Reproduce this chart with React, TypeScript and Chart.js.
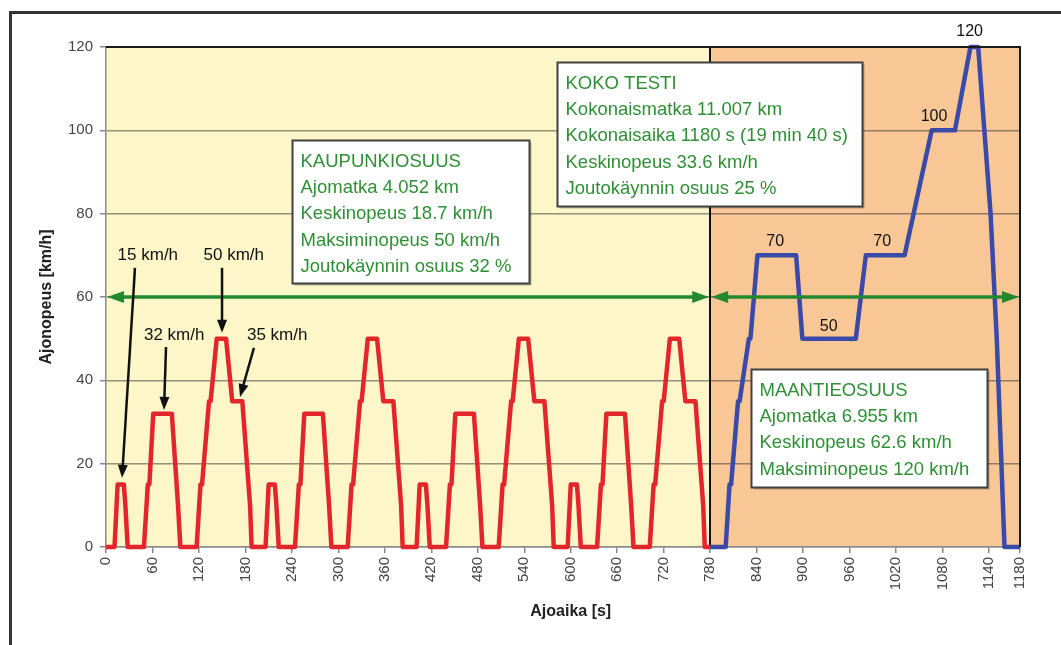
import React, { useEffect, useRef } from 'react';
import { Chart, registerables } from 'chart.js';

Chart.register(...registerables);

// ---------- DATA ----------
// Urban part (4 x ECE-15 cycle), time [s]
const urbanTime = [
  0, 11, 15, 23, 25, 28, 49, 54, 56, 61, 85, 93, 96, 117, 122, 124, 133, 135, 143, 155, 163, 176, 186, 188, 195,
  206, 210, 218, 220, 223, 244, 249, 251, 256, 280, 288, 291, 312, 317, 319, 328, 330, 338, 350, 358, 371, 381, 383, 390,
  401, 405, 413, 415, 418, 439, 444, 446, 451, 475, 483, 486, 507, 512, 514, 523, 525, 533, 545, 553, 566, 576, 578, 585,
  596, 600, 608, 610, 613, 634, 639, 641, 646, 670, 678, 681, 702, 707, 709, 718, 720, 728, 740, 748, 761, 771, 773, 780,
];
// Urban part speed [km/h]
const urbanSpeed = [
  0, 0, 15, 15, 10, 0, 0, 15, 15, 32, 32, 10, 0, 0, 15, 15, 35, 35, 50, 50, 35, 35, 10, 0, 0,
  0, 15, 15, 10, 0, 0, 15, 15, 32, 32, 10, 0, 0, 15, 15, 35, 35, 50, 50, 35, 35, 10, 0, 0,
  0, 15, 15, 10, 0, 0, 15, 15, 32, 32, 10, 0, 0, 15, 15, 35, 35, 50, 50, 35, 35, 10, 0, 0,
  0, 15, 15, 10, 0, 0, 15, 15, 32, 32, 10, 0, 0, 15, 15, 35, 35, 50, 50, 35, 35, 10, 0, 0,
];
// Extra-urban (highway) part
const roadTime = [780, 800, 805, 807, 816, 818, 830, 832, 841, 891, 899, 968, 981, 1031, 1066, 1096, 1116, 1126, 1142, 1150, 1160, 1180];
const roadSpeed = [0, 0, 15, 15, 35, 35, 50, 50, 70, 70, 50, 50, 70, 70, 100, 100, 120, 120, 80, 50, 0, 0];

const xTickValues = [0, 60, 120, 180, 240, 300, 360, 420, 480, 540, 600, 660, 720, 780, 840, 900, 960, 1020, 1080, 1140, 1180];
const yTickValues = [0, 20, 40, 60, 80, 100, 120];
const sectionBounds = [0, 780, 1180];
const arrowSpeed = 60;

const xTitle = 'Ajoaika [s]';
const yTitle = 'Ajonopeus [km/h]';

const urbanBoxLines = ['KAUPUNKIOSUUS', 'Ajomatka 4.052 km', 'Keskinopeus 18.7 km/h', 'Maksiminopeus 50 km/h', 'Joutokäynnin osuus 32 %'];
const totalBoxLines = ['KOKO TESTI', 'Kokonaismatka 11.007 km', 'Kokonaisaika 1180 s (19 min 40 s)', 'Keskinopeus 33.6 km/h', 'Joutokäynnin osuus 25 %'];
const roadBoxLines = ['MAANTIEOSUUS', 'Ajomatka 6.955 km', 'Keskinopeus 62.6 km/h', 'Maksiminopeus 120 km/h'];

// box extents in data coordinates [t0, t1, vTop, vBottom]
const urbanBoxArea = [240, 546, 97.7, 63.4];
const totalBoxArea = [582, 976, 116.4, 81.8];
const roadBoxArea = [833, 1137, 42.7, 14.4];

// callouts: text, text position (t, v), arrow from (t, v) to (t, v)
const calloutText = ['15 km/h', '50 km/h', '32 km/h', '35 km/h'];
const calloutPos = [[54, 70.1], [165, 70.1], [88, 50.9], [221, 50.9]];
const calloutFrom = [[37.4, 67], [149.8, 67], [77.5, 48], [191, 47.8]];
const calloutTo = [[20.7, 16.6], [149.8, 51.4], [74.9, 32.9], [173, 36]];

const speedLabelText = ['70', '50', '70', '100', '120'];
const speedLabelPos = [[864, 73.4], [933, 52.8], [1002, 73.4], [1069, 103.4], [1115, 123.6]];

const FONT = "'Liberation Sans', Arial, Helvetica, sans-serif";

function arrowHead(ctx: CanvasRenderingContext2D, x1: number, y1: number, x2: number, y2: number, len: number, halfW: number) {
  const ang = Math.atan2(y2 - y1, x2 - x1);
  const bx = x2 - len * Math.cos(ang);
  const by = y2 - len * Math.sin(ang);
  ctx.beginPath();
  ctx.moveTo(x2, y2);
  ctx.lineTo(bx + halfW * Math.sin(ang), by - halfW * Math.cos(ang));
  ctx.lineTo(bx - halfW * Math.sin(ang), by + halfW * Math.cos(ang));
  ctx.closePath();
  ctx.fill();
  return [bx + 0.3 * len * Math.cos(ang), by + 0.3 * len * Math.sin(ang)];
}

function drawBox(ctx: CanvasRenderingContext2D, chart: any, area: number[], lines: string[]) {
  const { x, y } = chart.scales;
  const l = Math.round(x.getPixelForValue(area[0])) + 0.5;
  const r = Math.round(x.getPixelForValue(area[1])) + 0.5;
  const t = Math.round(y.getPixelForValue(area[2])) + 0.5;
  const b = Math.round(y.getPixelForValue(area[3])) + 0.5;
  ctx.save();
  ctx.fillStyle = 'rgba(0,0,0,0.25)';
  ctx.fillRect(l + 2, t + 2, r - l, b - t);
  ctx.fillStyle = '#ffffff';
  ctx.fillRect(l, t, r - l, b - t);
  ctx.strokeStyle = '#404040';
  ctx.lineWidth = 2;
  ctx.strokeRect(l, t, r - l, b - t);
  ctx.fillStyle = '#2f8f35';
  ctx.font = `18.5px ${FONT}`;
  ctx.textAlign = 'left';
  ctx.textBaseline = 'middle';
  lines.forEach((s, i) => {
    ctx.fillText(s, l + 8, t + 21 + i * 26.4);
  });
  ctx.restore();
}

const decoPlugin = {
  id: 'deco',
  beforeDraw(chart: any) {
    const { ctx, chartArea: a, scales } = chart;
    const x = scales.x;
    ctx.save();
    ctx.fillStyle = '#ffffff';
    ctx.fillRect(0, 0, chart.width, chart.height);
    ctx.strokeStyle = '#333333';
    ctx.lineWidth = 3;
    ctx.beginPath();
    ctx.moveTo(10.5, chart.height + 5);
    ctx.lineTo(10.5, 12.5);
    ctx.lineTo(chart.width + 5, 12.5);
    ctx.stroke();
    const x0 = x.getPixelForValue(sectionBounds[0]);
    const x1 = x.getPixelForValue(sectionBounds[1]);
    const x2 = x.getPixelForValue(sectionBounds[2]);
    ctx.fillStyle = '#fcf6c8';
    ctx.fillRect(x0, a.top, x1 - x0, a.bottom - a.top);
    ctx.fillStyle = '#f8c795';
    ctx.fillRect(x1, a.top, x2 - x1, a.bottom - a.top);
    ctx.restore();
  },
  beforeDatasetsDraw(chart: any) {
    const { ctx, chartArea: a, scales } = chart;
    const xs = Math.round(scales.x.getPixelForValue(sectionBounds[1]));
    ctx.save();
    ctx.strokeStyle = '#111111';
    ctx.lineWidth = 2;
    ctx.beginPath();
    ctx.moveTo(xs, a.top);
    ctx.lineTo(xs, a.bottom);
    ctx.stroke();
    ctx.restore();
  },
  afterDatasetsDraw(chart: any) {
    const { ctx, chartArea: a, scales } = chart;
    const { x, y } = scales;
    ctx.save();
    // top and right border
    ctx.strokeStyle = '#1a1a1a';
    ctx.lineWidth = 2;
    ctx.beginPath();
    ctx.moveTo(a.left, a.top);
    ctx.lineTo(a.right, a.top);
    ctx.lineTo(a.right, a.bottom);
    ctx.stroke();

    // green double arrows
    const ya = y.getPixelForValue(arrowSpeed);
    ctx.strokeStyle = '#23892f';
    ctx.fillStyle = '#23892f';
    ctx.lineWidth = 3.5;
    for (let i = 0; i < sectionBounds.length - 1; i++) {
      const xa = x.getPixelForValue(sectionBounds[i]) + 1;
      const xb = x.getPixelForValue(sectionBounds[i + 1]) - 1;
      const p1 = arrowHead(ctx, xb, ya, xa, ya, 17, 6);
      const p2 = arrowHead(ctx, xa, ya, xb, ya, 17, 6);
      ctx.beginPath();
      ctx.moveTo(p1[0], ya);
      ctx.lineTo(p2[0], ya);
      ctx.stroke();
    }

    // boxes
    drawBox(ctx, chart, urbanBoxArea, urbanBoxLines);
    drawBox(ctx, chart, totalBoxArea, totalBoxLines);
    drawBox(ctx, chart, roadBoxArea, roadBoxLines);

    // callouts
    ctx.fillStyle = '#111111';
    ctx.strokeStyle = '#111111';
    ctx.font = `17px ${FONT}`;
    ctx.textAlign = 'center';
    ctx.textBaseline = 'middle';
    calloutText.forEach((s, i) => {
      ctx.fillText(s, x.getPixelForValue(calloutPos[i][0]), y.getPixelForValue(calloutPos[i][1]));
      const fx = x.getPixelForValue(calloutFrom[i][0]);
      const fy = y.getPixelForValue(calloutFrom[i][1]);
      const tx = x.getPixelForValue(calloutTo[i][0]);
      const ty = y.getPixelForValue(calloutTo[i][1]);
      const base = arrowHead(ctx, fx, fy, tx, ty, 13, 5);
      ctx.lineWidth = 2.5;
      ctx.beginPath();
      ctx.moveTo(fx, fy);
      ctx.lineTo(base[0], base[1]);
      ctx.stroke();
    });

    // speed labels
    ctx.font = `16px ${FONT}`;
    speedLabelText.forEach((s, i) => {
      ctx.fillText(s, x.getPixelForValue(speedLabelPos[i][0]), y.getPixelForValue(speedLabelPos[i][1]));
    });

    // axis titles
    ctx.fillStyle = '#222222';
    ctx.font = `bold 16px ${FONT}`;
    ctx.fillText(xTitle, x.getPixelForValue(600), 612);
    ctx.save();
    ctx.translate(47, (a.top + a.bottom) / 2);
    ctx.rotate(-Math.PI / 2);
    ctx.fillText(yTitle, 0, 0);
    ctx.restore();
    ctx.restore();
  },
};

export default function App() {
  const ref = useRef<HTMLCanvasElement>(null);
  useEffect(() => {
    document.body.style.margin = '0';
    const canvas = ref.current;
    if (!canvas) return;
    const chart = new Chart(canvas, {
      type: 'line',
      data: {
        datasets: [
          {
            label: 'Kaupunkiosuus',
            data: urbanTime.map((t, i) => ({ x: t, y: urbanSpeed[i] })),
            borderColor: '#e2262b',
            borderWidth: 4.5,
            pointRadius: 0,
            tension: 0,
            borderJoinStyle: 'round',
            clip: 6,
          } as any,
          {
            label: 'Maantieosuus',
            data: roadTime.map((t, i) => ({ x: t, y: roadSpeed[i] })),
            borderColor: '#3a4aa8',
            borderWidth: 4.5,
            pointRadius: 0,
            tension: 0,
            borderJoinStyle: 'round',
            clip: 6,
          } as any,
        ],
      },
      options: {
        responsive: false,
        maintainAspectRatio: false,
        animation: false,
        devicePixelRatio: 1,
        events: [],
        layout: { padding: { top: 47, right: 41, left: 0, bottom: 0 } },
        plugins: { legend: { display: false }, tooltip: { enabled: false }, title: { display: false } },
        scales: {
          x: {
            type: 'linear',
            min: sectionBounds[0],
            max: sectionBounds[2],
            afterBuildTicks: (axis: any) => {
              axis.ticks = xTickValues.map((v) => ({ value: v }));
            },
            afterFit: (s: any) => {
              s.height = 98;
            },
            ticks: {
              autoSkip: false,
              minRotation: 90,
              maxRotation: 90,
              padding: 4,
              color: '#444444',
              font: { family: FONT, size: 15 },
              callback: (v: any) => String(v),
            },
            grid: { drawOnChartArea: false, drawTicks: true, tickLength: 6, tickColor: '#8a8a8a', lineWidth: 1.5 },
            border: { display: true, color: '#8a8a8a', width: 1.5 },
          },
          y: {
            type: 'linear',
            min: yTickValues[0],
            max: yTickValues[yTickValues.length - 1],
            afterBuildTicks: (axis: any) => {
              axis.ticks = yTickValues.map((v) => ({ value: v }));
            },
            afterFit: (s: any) => {
              s.width = 106;
            },
            ticks: {
              padding: 7,
              color: '#444444',
              font: { family: FONT, size: 15 },
              callback: (v: any) => String(v),
            },
            grid: { color: 'rgba(60,60,60,0.55)', lineWidth: 1.5, tickLength: 6, tickColor: '#8a8a8a' },
            border: { display: true, color: '#8a8a8a', width: 1.5 },
          },
        },
      },
      plugins: [decoPlugin],
    } as any);
    return () => chart.destroy();
  }, []);
  return (
    <div style={{ width: 1061, height: 645 }}>
      <canvas ref={ref} width={1061} height={645} style={{ display: 'block' }} />
    </div>
  );
}
